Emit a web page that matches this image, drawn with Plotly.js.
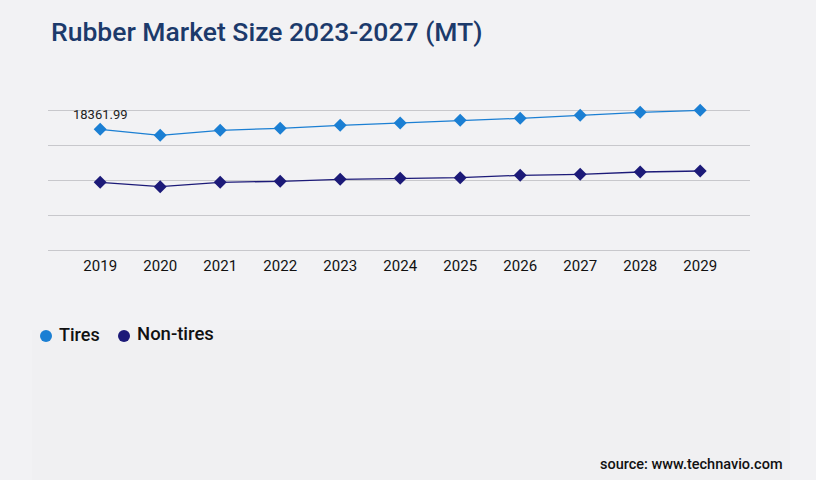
<!DOCTYPE html>
<html>
<head>
<meta charset="utf-8">
<script src="https://cdn.plot.ly/plotly-3.0.1.min.js"></script>
<style>
    html, body { margin: 0; padding: 0; background: #f2f2f4; }
    #chart { width: 816px; height: 480px; }
</style>
</head>
<body>
<div id="chart"></div>
<script>
// values (MT)
const years = [2019, 2020, 2021, 2022, 2023, 2024, 2025, 2026, 2027, 2028, 2029]
const tires = [18361.99, 17449, 18210, 18514, 18971, 19320, 19731, 20035, 20492, 20948, 21252]
const nonTires = [10299, 9630, 10299, 10451, 10756, 10908, 10999, 11364, 11516, 11866, 12018]
const gridVals = [0, 5325, 10650, 15975, 21300]
const seriesNames = ["Tires", "Non-tires"]

const TIRES_COLOR = "#1b7fd3"
const NON_TIRES_COLOR = "#1c1a78"

// plot box in page pixels (a little padding round the grid so the outer lines are kept)
const M = {l: 48, r: 66, t: 106, b: 226}
const PW = 816 - M.l - M.r
const PH = 480 - M.t - M.b
// page pixel -> paper coords (for text and decorations outside the plot)
const px = (x) => (x - M.l) / PW
const py = (y) => (480 - M.b - y) / PH
const PAD = 4 * gridVals[4] / 140

var tiresTrace = {
    x: years,
    y: tires,
    name: seriesNames[0],
    mode: "lines+markers",
    line: {color: TIRES_COLOR, width: 1.3},
    marker: {symbol: "diamond", size: 10, color: TIRES_COLOR},
    cliponaxis: false,
    hoverinfo: "skip"
}
var nonTiresTrace = {
    x: years,
    y: nonTires,
    name: seriesNames[1],
    mode: "lines+markers",
    line: {color: NON_TIRES_COLOR, width: 1.3},
    marker: {symbol: "diamond", size: 10, color: NON_TIRES_COLOR},
    cliponaxis: false,
    hoverinfo: "skip"
}

var data = [tiresTrace, nonTiresTrace]

var layout = {
    width: 816,
    height: 480,
    paper_bgcolor: "#f2f2f4",
    plot_bgcolor: "rgba(0,0,0,0)",
    margin: M,
    font: {family: "Roboto, sans-serif", color: "#111"},
    showlegend: false,
    title: {
        text: "Rubber Market Size 2023-2027 (MT)",
        font: {family: "Roboto, sans-serif", size: 26.5, weight: 500, color: "#1c3a6b"},
        x: 51 / 816, xanchor: "left",
        y: 1 - 32 / 480, yanchor: "middle"
    },
    xaxis: {
        type: "linear",
        range: [2018.13, 2029.83],
        tickvals: years,
        ticktext: years.map(String),
        showgrid: false,
        zeroline: false,
        showline: false,
        ticks: "",
        ticklabelstandoff: 1,
        tickfont: {family: "Roboto, sans-serif", size: 15, color: "#111"},
        fixedrange: true
    },
    yaxis: {
        range: [-PAD, gridVals[4] + PAD],
        tickvals: gridVals,
        showticklabels: false,
        showgrid: true,
        gridcolor: "#c8c8cc",
        gridwidth: 1,
        zeroline: false,
        showline: false,
        fixedrange: true
    },
    annotations: [
        {
            // first point label
            x: years[0], y: tires[0],
            xref: "x", yref: "y",
            text: tires[0].toFixed(2),
            showarrow: false,
            yshift: 15,
            font: {family: "Roboto, sans-serif", size: 13, color: "#222"}
        },
        {
            text: "source: www.technavio.com",
            xref: "paper", yref: "paper",
            x: px(785), xanchor: "right",
            y: py(465), yanchor: "middle",
            showarrow: false,
            font: {family: "Roboto, sans-serif", size: 14.5, weight: 500, color: "#111"}
        },
        {
            text: seriesNames[0],
            xref: "paper", yref: "paper",
            x: px(57), xanchor: "left",
            y: py(334), yanchor: "middle",
            showarrow: false,
            font: {family: "Roboto, sans-serif", size: 18, weight: 500, color: "#111"}
        },
        {
            text: seriesNames[1],
            xref: "paper", yref: "paper",
            x: px(135), xanchor: "left",
            y: py(334), yanchor: "middle",
            showarrow: false,
            font: {family: "Roboto, sans-serif", size: 18.5, weight: 500, color: "#111"}
        }
    ],
    shapes: [
        {
            // faint lower panel
            type: "rect", xref: "paper", yref: "paper",
            layer: "below", line: {width: 0},
            fillcolor: "#f0f0f2",
            x0: px(32), x1: px(790),
            y0: py(480), y1: py(330)
        },
        {
            // legend dot: Tires
            type: "circle", xref: "paper", yref: "paper",
            line: {width: 0}, fillcolor: TIRES_COLOR,
            x0: px(40), x1: px(52), y0: py(342), y1: py(330)
        },
        {
            // legend dot: Non-tires
            type: "circle", xref: "paper", yref: "paper",
            line: {width: 0}, fillcolor: NON_TIRES_COLOR,
            x0: px(118), x1: px(130), y0: py(342), y1: py(330)
        }
    ]
}

Plotly.newPlot("chart", data, layout, {displayModeBar: false, staticPlot: true})
</script>
</body>
</html>
